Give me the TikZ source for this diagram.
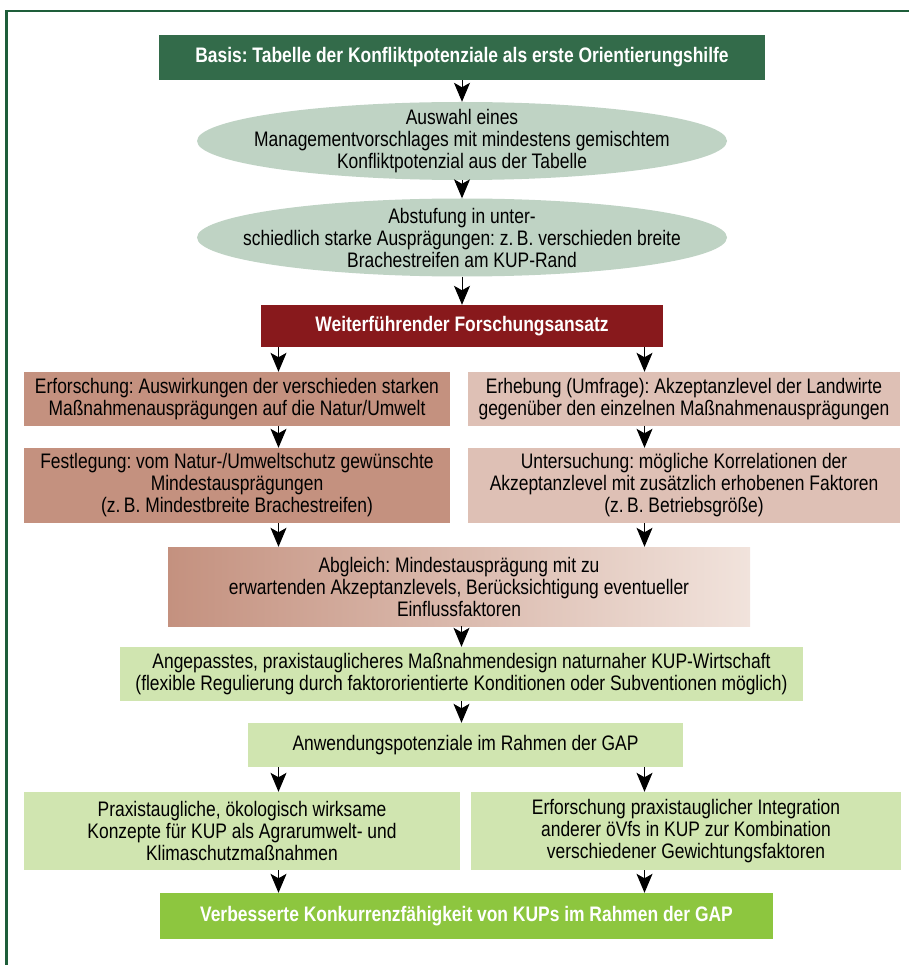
\documentclass[tikz,border=0pt]{standalone}
\usepackage{fontspec}
\setmainfont{Liberation Sans}[FakeStretch=0.83]
\frenchspacing
\usetikzlibrary{arrows.meta,shapes.geometric}
\definecolor{framegreen}{HTML}{1E5E3A}
\definecolor{basisgreen}{HTML}{336B4A}
\definecolor{ellgreen}{HTML}{BFD3C4}
\definecolor{darkred}{HTML}{88191C}
\definecolor{rosedark}{HTML}{C4917F}
\definecolor{roselight}{HTML}{DEC0B5}
\definecolor{roseend}{HTML}{F1E3DC}
\definecolor{lightgreen}{HTML}{D0E5B0}
\definecolor{brightgreen}{HTML}{8DC63F}
\tikzset{
  x=1pt, y=-1pt,
  every node/.style={font=\fontsize{21}{22}\selectfont, align=center, inner sep=0pt, text=black},
  box/.style={rectangle, minimum width=#1},
  title/.style={text=white, font=\fontsize{21}{22}\selectfont\bfseries},
  ell/.style={ellipse, fill=ellgreen, minimum width=530, minimum height=78},
  arr/.style={line width=1pt, -{Stealth[length=19pt, width=16pt, inset=4.5pt]}}
}
\begin{document}
\begin{tikzpicture}
\useasboundingbox (0,0) rectangle (909,965);
\draw[framegreen, line width=2.4pt] (6.5,965) -- (6.5,11) -- (909,11);

\coordinate (cL) at (278.5,0);
\coordinate (cR) at (644.5,0);

\node[box=606, minimum height=45, fill=basisgreen, title] (basis) at (462,57.5) {Basis: Tabelle der Konfliktpotenziale als erste Orientierungshilfe};

\node[ell] (e1) at (462,141) {};
\node (e1t) at (e1.center) {Auswahl eines\\Managementvorschlages mit mindestens gemischtem\\Konfliktpotenzial aus der Tabelle};

\node[ell] (e2) at (462,237.5) {};
\node (e2t) at (e2.center) {Abstufung in unter-\\schiedlich starke Ausprägungen: z.\,B. verschieden breite\\Brachestreifen am KUP-Rand};

\node[box=402, minimum height=42, fill=darkred, title] (wf) at (462,326) {Weiterführender Forschungsansatz};

\node[box=426, minimum height=54, fill=rosedark] (erf) at (237,399) {Erforschung: Auswirkungen der verschieden starken\\Maßnahmenausprägungen auf die Natur/Umwelt};
\node[box=432, minimum height=54, fill=roselight] (erh) at (684,399) {Erhebung (Umfrage): Akzeptanzlevel der Landwirte\\gegenüber den einzelnen Maßnahmenausprägungen};

\node[box=426, minimum height=75, fill=rosedark] (fest) at (237,485.5) {Festlegung: vom Natur-/Umweltschutz gewünschte\\Mindestausprägungen\\(z.\,B. Mindestbreite Brachestreifen)};
\node[box=432, minimum height=75, fill=roselight] (unt) at (684,485.5) {Untersuchung: mögliche Korrelationen der\\Akzeptanzlevel mit zusätzlich erhobenen Faktoren\\(z.\,B. Betriebsgröße)};

\node[box=582, minimum height=79, left color=rosedark, right color=roseend] (abg) at (459,586.5) {Abgleich: Mindestausprägung mit zu\\erwartenden Akzeptanzlevels, Berücksichtigung eventueller\\Einflussfaktoren};

\node[box=683, minimum height=54, fill=lightgreen] (ang) at (461.5,674) {Angepasstes, praxistauglicheres Maßnahmendesign naturnaher KUP-Wirtschaft\\(flexible Regulierung durch faktororientierte Konditionen oder Subventionen möglich)};

\node[box=435, minimum height=44, fill=lightgreen] (anw) at (465.5,745) {Anwendungspotenziale im Rahmen der GAP};

\node[box=436, minimum height=78, fill=lightgreen] (prax) at (242,831) {Praxistaugliche, ökologisch wirksame\\Konzepte für KUP als Agrarumwelt- und\\Klimaschutzmaßnahmen};
\node[box=430, minimum height=78, fill=lightgreen] (erf2) at (686,831) {Erforschung praxistauglicher Integration\\anderer öVfs in KUP zur Kombination\\verschiedener Gewichtungsfaktoren};

\node[box=613, minimum height=46, fill=brightgreen, title] (verb) at (466.5,916) {Verbesserte Konkurrenzfähigkeit von KUPs im Rahmen der GAP};

\draw[arr] (basis.south) -- (e1.north);
\draw[arr] (e1.south) -- (e2.north);
\draw[arr] (e2.south) -- (wf.north);
\draw[arr] (wf.south -| cL) -- (erf.north -| cL);
\draw[arr] (wf.south -| cR) -- (erh.north -| cR);
\draw[arr] (erf.south -| cL) -- (fest.north -| cL);
\draw[arr] (erh.south -| cR) -- (unt.north -| cR);
\draw[arr] (fest.south -| cL) -- (abg.north -| cL);
\draw[arr] (unt.south -| cR) -- (abg.north -| cR);
\draw[arr] (abg.south -| ang.north) -- (ang.north);
\draw[arr] (ang.south -| anw.north) ++(-4,0) coordinate (t1) -- (anw.north -| t1);
\draw[arr] (anw.south -| cL) -- (prax.north -| cL);
\draw[arr] (anw.south -| cR) -- (erf2.north -| cR);
\draw[arr] (prax.south -| cL) -- (verb.north -| cL);
\draw[arr] (erf2.south -| cR) -- (verb.north -| cR);
\end{tikzpicture}
\end{document}
